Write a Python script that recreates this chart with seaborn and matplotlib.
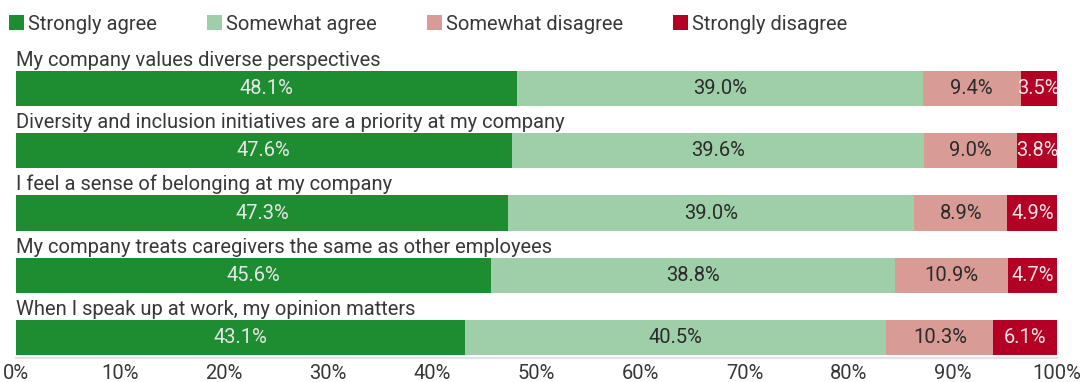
import numpy as np
import pandas as pd
import matplotlib
matplotlib.use("Agg")
import matplotlib.pyplot as plt
from matplotlib.patches import Patch
import seaborn as sns

questions = [
    "My company values diverse perspectives",
    "Diversity and inclusion initiatives are a priority at my company",
    "I feel a sense of belonging at my company",
    "My company treats caregivers the same as other employees",
    "When I speak up at work, my opinion matters",
]
series_names = ["Strongly agree", "Somewhat agree", "Somewhat disagree", "Strongly disagree"]
strongly_agree = [48.1, 47.6, 47.3, 45.6, 43.1]
somewhat_agree = [39.0, 39.6, 39.0, 38.8, 40.5]
somewhat_disagree = [9.4, 9.0, 8.9, 10.9, 10.3]
strongly_disagree = [3.5, 3.8, 4.9, 4.7, 6.1]
tick_values = [0, 10, 20, 30, 40, 50, 60, 70, 80, 90, 100]

colors = ["#1e8c31", "#9fcfa8", "#d89b95", "#b30024"]
label_colors = ["#e6e6e6", "#2b2b2b", "#2b2b2b", "#f2e4e4"]
text_color = "#383838"

sns.set_theme(style="white")
plt.rcParams["font.family"] = ["Roboto", "DejaVu Sans"]

values = np.array([strongly_agree, somewhat_agree, somewhat_disagree, strongly_disagree])
cumulative = np.cumsum(values, axis=0)

df = pd.DataFrame({"question": questions})
for name, cum in zip(series_names, cumulative):
    df[name] = cum

fig = plt.figure(figsize=(10.81, 3.82), dpi=100)
ax = fig.add_axes([16 / 1081, 24 / 382, 1041 / 1081, 318 / 382])

# Stacked bars: draw the cumulative totals from the widest down
for name, color in reversed(list(zip(series_names, colors))):
    sns.barplot(data=df, x=name, y="question", color=color, orient="h",
                width=0.563, saturation=1, ax=ax, linewidth=0)

fs = 14.5
fw = "normal"
for si in range(len(series_names)):
    for qi in range(len(questions)):
        v = values[si, qi]
        center = cumulative[si, qi] - v / 2
        ax.text(center, qi, f"{v:.1f}%", ha="center", va="center",
                color=label_colors[si], fontsize=fs, fontweight=fw,
                clip_on=True)

for qi, q in enumerate(questions):
    ax.text(0, qi - 0.30, q, ha="left", va="bottom", fontsize=fs,
            color=text_color, fontweight=fw)

ax.set_xlim(0, 100)
ax.set_ylim(4.33, -0.78)
ax.set_xticks(tick_values)
ax.set_xticklabels([f"{t}%" for t in tick_values], fontsize=fs,
                   color=text_color, fontweight=fw)
ax.set_yticks([])
ax.set_xlabel("")
ax.set_ylabel("")
ax.tick_params(axis="x", length=0, pad=4)
for side in ["top", "left", "right"]:
    ax.spines[side].set_visible(False)
ax.spines["bottom"].set_color("#e3e3e3")
ax.spines["bottom"].set_linewidth(1.6)

handles = [Patch(facecolor=c, edgecolor="none") for c in colors]
fig.legend(handles, series_names, loc="upper left", bbox_to_anchor=(0.0, 0.985),
           ncol=4, frameon=False, prop={"size": fs, "weight": fw},
           handlelength=0.75, handleheight=0.75, handletextpad=0.18,
           columnspacing=2.5, borderaxespad=0.0, borderpad=0.45,
           labelcolor=text_color)

fig.savefig("out.png", dpi=100)
